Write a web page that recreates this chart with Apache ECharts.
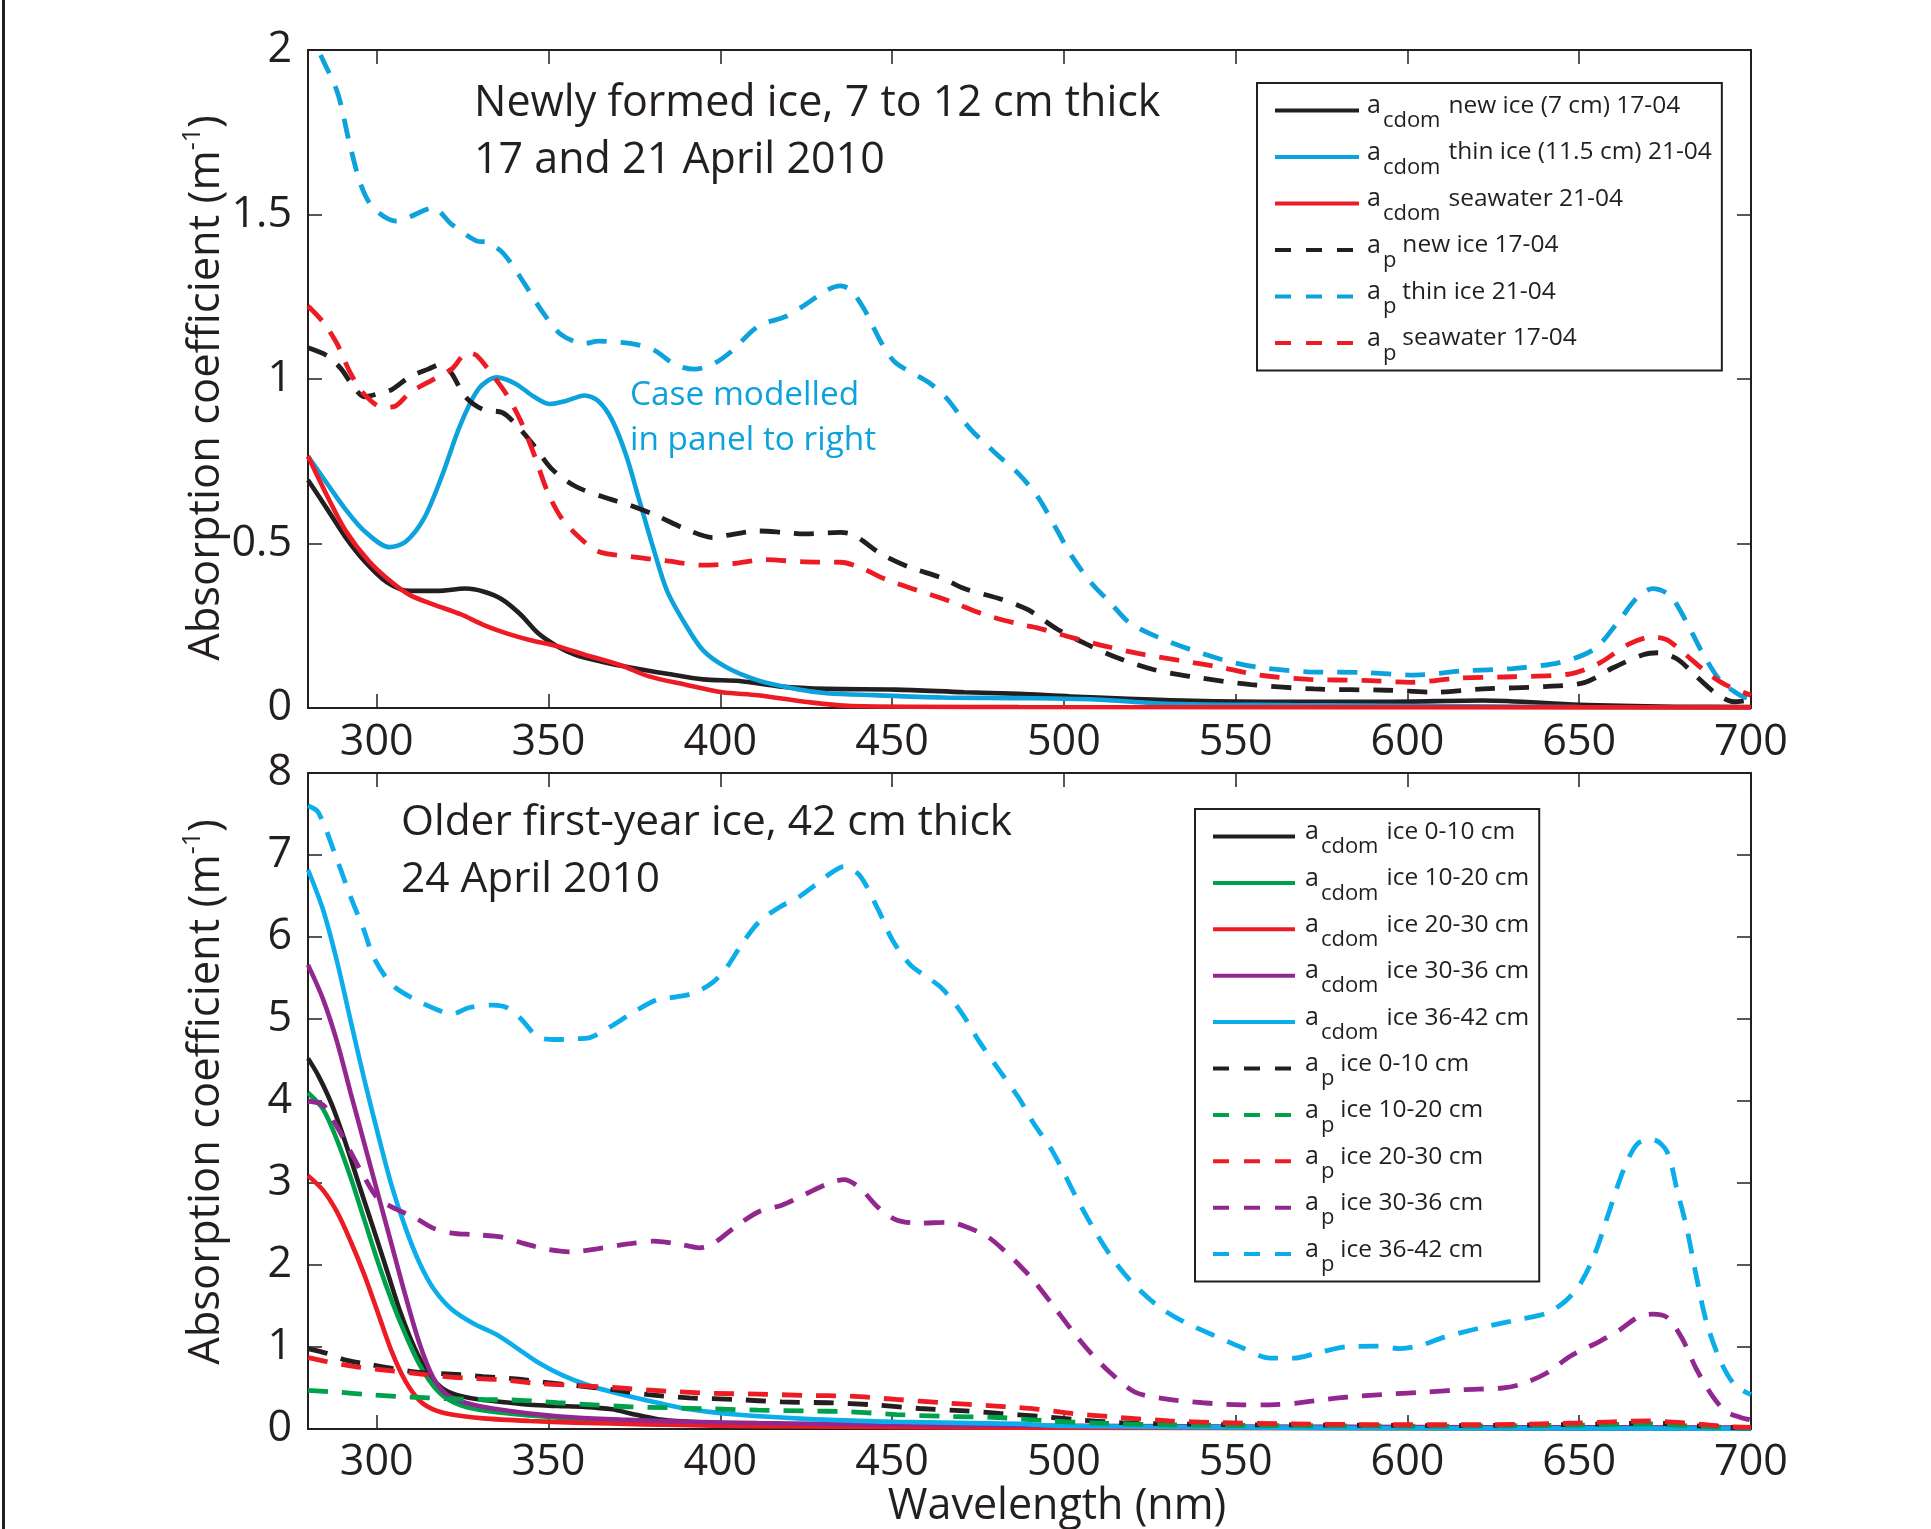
<!DOCTYPE html>
<html><head><meta charset="utf-8">
<script src="https://cdn.jsdelivr.net/npm/echarts@6/dist/echarts.min.js"></script>
<style>html,body{margin:0;padding:0;background:#fff}#c{width:1931px;height:1529px}</style>
</head><body><div id="c"></div>
<script>
// ---------- tick labels ----------
const xTicks = [300, 350, 400, 450, 500, 550, 600, 650, 700];

// ---------- Panel 1: newly formed ice ----------
const topSubs = ['cdom', 'cdom', 'cdom', 'p', 'p', 'p'];
const topTexts = ['new ice (7 cm) 17-04', 'thin ice (11.5 cm) 21-04', 'seawater 21-04', 'new ice 17-04', 'thin ice 21-04', 'seawater 17-04'];

const acdomNewIce = [[280,0.693],[285.7,0.603],[291,0.518],[296.4,0.447],[303,0.382],[309.7,0.356],[317.8,0.356],[325.8,0.363],[331,0.354],[336.5,0.33],[341.8,0.285],[347,0.227],[352.5,0.188],[357.8,0.162],[365.8,0.14],[373.8,0.123],[384.5,0.104],[395,0.087],[405.6,0.082],[417.8,0.065],[431,0.058],[451,0.056],[471,0.048],[487,0.043],[502,0.035],[537.6,0.022],[566,0.019],[594,0.019],[622,0.023],[650,0.01],[678,0.004],[700,0.003]];
const acdomThinIce = [[280,0.765],[285.7,0.68],[291,0.603],[296.4,0.538],[303.7,0.489],[308.4,0.505],[313.8,0.577],[319,0.706],[324.4,0.862],[329.8,0.972],[335,1.005],[340.5,0.985],[345.8,0.946],[350.5,0.924],[355,0.933],[360.5,0.95],[364.5,0.933],[368.5,0.875],[372.5,0.771],[376.5,0.629],[380.5,0.486],[384.5,0.356],[389.9,0.253],[395,0.175],[401.9,0.123],[411,0.084],[422,0.058],[431,0.045],[444.6,0.039],[464.6,0.032],[487,0.03],[509,0.026],[530,0.013],[566,0.009],[608,0.006],[650,0.003],[700,0.002]];
const acdomSeawater = [[280,0.765],[285.7,0.642],[291,0.538],[297.7,0.447],[304.4,0.382],[309.7,0.343],[316.4,0.315],[324.4,0.285],[331,0.253],[337.8,0.227],[344.5,0.207],[352.5,0.188],[360.5,0.162],[371,0.13],[379,0.097],[389.9,0.071],[400.6,0.048],[411,0.039],[424.6,0.019],[438,0.006],[487,0.003],[700,0.002]];
const apNewIce = [[280,1.095],[285.7,1.07],[289.7,1.03],[293,0.98],[296.4,0.946],[300.4,0.955],[304.4,0.968],[309.7,1.007],[315,1.03],[319,1.046],[321.8,1.017],[325.8,0.946],[331,0.907],[336.5,0.898],[340.5,0.862],[345.8,0.797],[351,0.726],[357.8,0.674],[365.8,0.642],[373.8,0.616],[381.8,0.583],[389.9,0.544],[397.9,0.518],[401.9,0.525],[411,0.538],[418,0.534],[424.6,0.529],[435,0.534],[439,0.525],[447,0.467],[455,0.428],[464.6,0.395],[471,0.363],[482,0.33],[489.7,0.298],[498,0.24],[506.6,0.194],[515,0.155],[526,0.117],[540,0.091],[554.5,0.071],[572.8,0.058],[594,0.054],[608,0.048],[622,0.058],[640,0.065],[651.7,0.078],[660,0.123],[668.6,0.162],[672.8,0.168],[678.5,0.149],[684,0.097],[689.7,0.045],[695,0.019],[700,0.025]];
const apThinIce = [[280,2.08],[283,2.0],[288.6,1.87],[292,1.72],[295.4,1.59],[299,1.52],[305.7,1.48],[309,1.49],[316.4,1.52],[321.8,1.47],[329,1.42],[332.4,1.415],[337,1.38],[343,1.29],[348.5,1.2],[353.8,1.134],[360.5,1.108],[364.5,1.115],[373.8,1.108],[380.5,1.089],[387,1.043],[392.5,1.03],[398,1.046],[403,1.082],[411,1.16],[419,1.19],[424.6,1.225],[431,1.27],[435,1.283],[438,1.27],[442,1.21],[447,1.108],[451,1.05],[460.6,0.99],[466,0.94],[472.6,0.85],[480.6,0.77],[487,0.71],[492.5,0.64],[497.5,0.55],[502.4,0.46],[508,0.38],[513.7,0.318],[519,0.26],[527.7,0.214],[537.6,0.175],[547.5,0.143],[557,0.123],[571,0.11],[587,0.108],[602,0.1],[616.5,0.113],[630.6,0.12],[644.6,0.139],[654.5,0.18],[661.6,0.266],[667,0.337],[671.4,0.363],[676.3,0.343],[681,0.266],[685.5,0.175],[691,0.084],[696.8,0.039],[700,0.026]];
const apSeawater = [[280,1.222],[284.4,1.173],[288.4,1.108],[292.4,1.017],[296.4,0.953],[301.7,0.914],[305,0.916],[309.7,0.959],[316.4,0.998],[321.8,1.03],[326.4,1.08],[329,1.072],[333.8,1.011],[337.8,0.953],[341.8,0.875],[345.8,0.771],[349.8,0.655],[353.8,0.577],[359,0.518],[364.5,0.476],[373.8,0.46],[384.5,0.447],[395,0.434],[404.5,0.44],[412.7,0.451],[424.6,0.444],[435,0.443],[440.5,0.428],[448.6,0.389],[457.9,0.356],[467,0.324],[476.6,0.285],[487,0.255],[492.5,0.243],[502.4,0.214],[512,0.188],[523.5,0.162],[534.8,0.143],[546,0.123],[557,0.1],[571.4,0.087],[587,0.084],[601,0.078],[615,0.091],[630.6,0.095],[647.5,0.104],[655.8,0.136],[664.4,0.194],[671.4,0.216],[675.6,0.207],[681,0.162],[686.9,0.11],[692.5,0.071],[700,0.039]];

// ---------- Panel 2: older first-year ice ----------
const botSubs = ['cdom', 'cdom', 'cdom', 'cdom', 'cdom', 'p', 'p', 'p', 'p', 'p'];
const botTexts = ['ice 0-10 cm', 'ice 10-20 cm', 'ice 20-30 cm', 'ice 30-36 cm', 'ice 36-42 cm', 'ice 0-10 cm', 'ice 10-20 cm', 'ice 20-30 cm', 'ice 30-36 cm', 'ice 36-42 cm'];

const acdom0_10 = [[280,4.52],[283,4.31],[287,3.95],[291,3.48],[295,2.96],[299,2.45],[303,1.93],[307,1.41],[311,0.99],[315,0.68],[319,0.5],[323,0.42],[328.4,0.37],[336.5,0.33],[344.5,0.295],[352.5,0.28],[360.5,0.27],[368.5,0.24],[373.8,0.19],[381.8,0.12],[389.9,0.09],[404.5,0.06],[424.6,0.05],[451,0.04],[487,0.03],[550,0.02],[600,0.015],[700,0.01]];
const acdom10_20 = [[280,4.1],[284.4,3.9],[288.4,3.53],[292.4,3.07],[296.4,2.55],[300.4,2.03],[304.4,1.56],[308.4,1.15],[312.4,0.79],[316.4,0.53],[320.4,0.37],[325.8,0.27],[333.8,0.21],[344.5,0.166],[357.8,0.124],[371,0.088],[391,0.062],[411,0.047],[487,0.02],[600,0.012],[700,0.008]];
const acdom20_30 = [[280,3.09],[284.4,2.91],[288.4,2.65],[292.4,2.29],[296.4,1.88],[300.4,1.41],[304.4,0.94],[308.4,0.58],[312.4,0.35],[316.4,0.24],[321.8,0.176],[331,0.13],[344.5,0.098],[357.8,0.078],[377.8,0.057],[397.9,0.041],[424.6,0.031],[487,0.016],[600,0.01],[700,0.006]];
const acdom30_36 = [[280,5.66],[284.4,5.24],[288.4,4.73],[292.4,4.1],[296.4,3.48],[300.4,2.86],[304.4,2.24],[308.4,1.62],[312.4,1.05],[316.4,0.63],[320.4,0.42],[325.8,0.32],[333.8,0.25],[344.5,0.19],[357.8,0.14],[371,0.114],[391,0.088],[411,0.073],[451,0.052],[487,0.041],[550,0.03],[620,0.022],[700,0.018]];
const acdom36_42 = [[280,6.82],[284.4,6.33],[288.4,5.71],[292.4,4.98],[296.4,4.26],[300.4,3.59],[304.4,2.96],[308.4,2.45],[312.4,2.03],[316.4,1.72],[321.8,1.46],[328.4,1.28],[335,1.15],[340.5,0.995],[347,0.81],[353.8,0.66],[361.8,0.53],[371,0.425],[381.8,0.32],[391,0.24],[404.5,0.176],[424.6,0.124],[451,0.088],[487,0.062],[500,0.036],[550,0.02],[600,0.01],[700,0.005]];
const ap0_10 = [[280,0.98],[285.7,0.92],[291,0.84],[297.7,0.79],[304.4,0.74],[312.4,0.69],[321.8,0.67],[331,0.64],[340.5,0.61],[349.8,0.565],[357.8,0.53],[368.5,0.48],[379,0.42],[391,0.38],[404.5,0.36],[417.9,0.33],[431.2,0.32],[444.6,0.295],[458,0.25],[471.3,0.22],[481.3,0.19],[492.5,0.155],[503.8,0.114],[516.5,0.078],[530.6,0.062],[551.7,0.052],[580,0.047],[608,0.041],[636,0.047],[657,0.062],[671.4,0.073],[681.3,0.047],[692.5,0.02],[700,0.015]];
const ap10_20 = [[280,0.47],[288.4,0.45],[299,0.415],[309.7,0.39],[320.4,0.37],[331,0.36],[341.8,0.35],[352.5,0.32],[363,0.295],[373.8,0.27],[384.5,0.26],[397.9,0.245],[411,0.23],[424.6,0.22],[437.9,0.21],[451.3,0.176],[464.6,0.155],[481,0.14],[495,0.1],[509,0.073],[530.6,0.052],[565.8,0.041],[608,0.036],[650,0.047],[670,0.062],[685.5,0.03],[700,0.015]];
const ap20_30 = [[280,0.87],[285.7,0.82],[293.7,0.76],[304.4,0.71],[315,0.66],[325.8,0.62],[336.5,0.6],[347,0.555],[357.8,0.53],[371,0.5],[384.5,0.46],[397.9,0.435],[411.2,0.425],[424.6,0.41],[437.9,0.4],[451.3,0.36],[464.6,0.32],[478,0.285],[487,0.26],[492.5,0.24],[502.4,0.19],[516.5,0.14],[530.6,0.1],[544.6,0.078],[565.8,0.062],[594,0.052],[622,0.052],[650,0.073],[670,0.098],[681.3,0.073],[692.5,0.03],[700,0.02]];
const ap30_36 = [[280,4.0],[284.4,3.95],[288.4,3.69],[292.4,3.38],[296.4,3.07],[300.4,2.81],[305.7,2.68],[311,2.58],[316.4,2.45],[321.8,2.39],[328.4,2.37],[336.5,2.34],[343,2.26],[349.8,2.19],[356.5,2.16],[364.5,2.2],[373.8,2.26],[380.5,2.29],[388.5,2.25],[393.9,2.21],[397.9,2.26],[404.5,2.47],[411.2,2.65],[417.9,2.73],[424.6,2.86],[431.2,2.99],[436,3.04],[440.6,2.94],[446,2.7],[451.3,2.55],[458,2.51],[466,2.52],[471.3,2.47],[478,2.34],[483.3,2.15],[487,2.0],[491,1.82],[496.8,1.51],[502.4,1.2],[508,0.92],[513.7,0.68],[520.7,0.45],[529,0.37],[540.4,0.32],[551.7,0.295],[560,0.295],[568.6,0.32],[580,0.38],[592.5,0.42],[605,0.45],[616.5,0.48],[627.7,0.5],[633.4,0.55],[640.4,0.68],[647.5,0.89],[656,1.07],[661.5,1.2],[667,1.36],[671.4,1.4],[675.6,1.36],[680,1.1],[684,0.74],[688.5,0.42],[692.5,0.22],[697,0.14],[700,0.11]];
const ap36_42 = [[280,7.6],[283,7.52],[288.4,6.95],[292.4,6.49],[296.4,6.07],[299,5.76],[304.4,5.42],[311,5.24],[317.8,5.11],[321.8,5.06],[327,5.14],[333.8,5.17],[337.8,5.14],[341.8,5.01],[347,4.78],[352.5,4.75],[357.8,4.76],[361.8,4.77],[367,4.88],[375,5.09],[381.8,5.24],[387.2,5.27],[392.5,5.32],[397.9,5.45],[401.9,5.63],[405.9,5.89],[411.2,6.18],[417.9,6.38],[421.9,6.46],[427.2,6.62],[431.2,6.75],[436,6.86],[440.6,6.75],[446,6.33],[450,5.97],[455.3,5.66],[460.6,5.5],[464.6,5.37],[470,5.09],[475.3,4.73],[480.6,4.41],[487,4.03],[491,3.74],[496.8,3.38],[503.8,2.81],[509.4,2.39],[515,2.03],[520.7,1.75],[527.7,1.49],[534.8,1.31],[543.2,1.15],[551.7,0.995],[560,0.865],[567,0.865],[574,0.93],[582.7,1.005],[591,1.01],[598,0.98],[603.8,1.02],[610.8,1.12],[622,1.24],[633,1.34],[640.4,1.41],[646,1.56],[650.3,1.77],[654.5,2.13],[658.7,2.65],[663,3.17],[667,3.48],[671.4,3.53],[675.6,3.38],[678.5,2.91],[681.3,2.45],[684,1.88],[687,1.31],[691,0.84],[695.4,0.53],[700,0.42]];

// ---------- styling ----------
const FONT = "'Open Sans', sans-serif";
const INK = '#231f20';
const C = { black: INK, blue: '#0ea2dc', blue2: '#0cadeb', red: '#ed1c24', green: '#00a14b', purple: '#92278f' };
const DASH = [20, 14];

function seriesOf(name, data, color, dashed, panel) {
  return {
    type: 'line', name: name, data: data,
    xAxisIndex: panel * 2, yAxisIndex: panel * 2,
    symbol: 'none', smooth: 0.3, clip: true,
    lineStyle: { color: color, width: dashed ? 4.8 : 4.6, type: dashed ? DASH : 'solid', cap: 'butt' },
    itemStyle: { color: color },
    emphasis: { disabled: true }
  };
}
const topNames = topSubs.map((s, i) => 'a' + s + ' ' + topTexts[i]);
const botNames = botSubs.map((s, i) => 'a' + s + ' ' + botTexts[i] + (i >= 5 ? ' ' : ''));
const labelMap = {};
topNames.forEach((n, i) => labelMap[n] = [topSubs[i], topTexts[i]]);
botNames.forEach((n, i) => labelMap[n] = [botSubs[i], botTexts[i]]);

const topData = [acdomNewIce, acdomThinIce, acdomSeawater, apNewIce, apThinIce, apSeawater];
const topColors = [C.black, C.blue, C.red, C.black, C.blue, C.red];
const botData = [acdom0_10, acdom10_20, acdom20_30, acdom30_36, acdom36_42, ap0_10, ap10_20, ap20_30, ap30_36, ap36_42];
const botColors = [C.black, C.green, C.red, C.purple, C.blue2, C.black, C.green, C.red, C.purple, C.blue2];

const series = [];
topNames.forEach((n, i) => series.push(seriesOf(n, topData[i], topColors[i], i >= 3, 0)));
botNames.forEach((n, i) => series.push(seriesOf(n, botData[i], botColors[i], i >= 5, 1)));

function legendItems(names, subs) {
  return names.map((n, i) => ({
    name: n,
    itemStyle: { opacity: 0 },
    lineStyle: { width: 4, type: subs[i] === 'p' ? [16, 15] : 'solid' }
  }));
}
function legendFormatter(name) {
  const p = labelMap[name];
  return '{a|a}{s|' + p[0] + '}{' + (p[0] === 'cdom' ? 't1' : 't2') + '|' + p[1] + '}';
}
function legendRich(aPad) {
  return {
    a: { fontSize: 25, lineHeight: 30, padding: [0, 0, 9, aPad], fontFamily: FONT, color: INK },
    s: { fontSize: 22, lineHeight: 30, padding: [21, 0, 0, 2], fontFamily: FONT, color: INK },
    t1: { fontSize: 24.5, lineHeight: 30, padding: [0, 0, 9, 8], fontFamily: FONT, color: INK },
    t2: { fontSize: 24.5, lineHeight: 30, padding: [0, 0, 9, 6], fontFamily: FONT, color: INK }
  };
}

function xAxisPair(gridIndex, withName, margin) {
  const base = {
    type: 'value', gridIndex: gridIndex, min: 280, max: 700,
    axisLine: { show: true, onZero: false, lineStyle: { color: INK, width: 2 } },
    axisTick: { show: true, inside: true, length: 14, customValues: xTicks, lineStyle: { color: INK, width: 1.5 } },
    splitLine: { show: false }
  };
  const bottom = Object.assign({}, base, {
    position: 'bottom',
    axisLabel: { show: true, customValues: xTicks, fontSize: 43, fontFamily: FONT, color: INK, margin: margin }
  });
  if (withName) {
    Object.assign(bottom, {
      name: 'Wavelength (nm)', nameLocation: 'middle', nameGap: 56, nameMoveOverlap: false,
      nameTextStyle: { fontSize: 43, fontFamily: FONT, color: INK, padding: [0, 0, 0, 55] }
    });
  }
  const top = Object.assign({}, base, { position: 'top', axisLabel: { show: false } });
  return [bottom, top];
}
function yAxisPair(gridIndex, max, interval, namePad) {
  const base = {
    type: 'value', gridIndex: gridIndex, min: 0, max: max, interval: interval,
    axisLine: { show: true, onZero: false, lineStyle: { color: INK, width: 2 } },
    axisTick: { show: true, inside: true, length: 14, lineStyle: { color: INK, width: 1.5 } },
    splitLine: { show: false }
  };
  const left = Object.assign({}, base, {
    position: 'left',
    axisLabel: { show: true, fontSize: 43, fontFamily: FONT, color: INK, margin: 16 },
    name: 'Absorption coefficient (m{sup|-1})', nameLocation: 'middle', nameGap: 78, nameRotate: 90,
    nameMoveOverlap: false,
    nameTextStyle: { fontSize: 43.5, fontFamily: FONT, color: INK, lineHeight: 46, padding: namePad,
      rich: { sup: { fontSize: 25, fontFamily: FONT, color: INK, lineHeight: 46, padding: [0, 0, 28, 0] } } }
  });
  const right = Object.assign({}, base, { position: 'right', axisLabel: { show: false } });
  return [left, right];
}

const option = {
  animation: false,
  backgroundColor: '#fff',
  textStyle: { fontFamily: FONT },
  grid: [
    { left: 308, right: 180, top: 50, height: 658 },
    { left: 308, right: 180, top: 773, height: 658 }
  ],
  xAxis: [...xAxisPair(0, false, 13), ...xAxisPair(1, true, 12)],
  yAxis: [...yAxisPair(0, 2, 0.5, [0, 18, 0, 0]), ...yAxisPair(1, 8, 1, [0, 0, 0, 18])],
  legend: [
    { data: legendItems(topNames, topSubs), orient: 'vertical', left: 1257, top: 83, itemWidth: 84, itemHeight: 14, itemGap: 3.5,
      padding: [6, 10, 6, 16], borderColor: INK, borderWidth: 2, backgroundColor: '#fff', selectedMode: false,
      formatter: legendFormatter, textStyle: { rich: legendRich(3) } },
    { data: legendItems(botNames, botSubs), orient: 'vertical', left: 1195, top: 809, itemWidth: 82, itemHeight: 14, itemGap: 3.4,
      padding: [6, 10, 6, 16], borderColor: INK, borderWidth: 2, backgroundColor: '#fff', selectedMode: false,
      formatter: legendFormatter, textStyle: { rich: legendRich(5) } }
  ],
  graphic: [
    { type: 'rect', shape: { x: 2, y: 0, width: 3, height: 1529 }, style: { fill: INK } },
    { type: 'text', x: 474, y: 104, style: { text: 'Newly formed ice, 7 to 12 cm thick', fontSize: 43, fontFamily: FONT, fill: INK, verticalAlign: 'middle' } },
    { type: 'text', x: 474, y: 161, style: { text: '17 and 21 April 2010', fontSize: 43, fontFamily: FONT, fill: INK, verticalAlign: 'middle' } },
    { type: 'text', x: 630, y: 395, style: { text: 'Case modelled', fontSize: 33.4, fontFamily: FONT, fill: C.blue, verticalAlign: 'middle' } },
    { type: 'text', x: 630, y: 440, style: { text: 'in panel to right', fontSize: 33.4, fontFamily: FONT, fill: C.blue, verticalAlign: 'middle' } },
    { type: 'text', x: 401, y: 823, style: { text: 'Older first-year ice, 42 cm thick', fontSize: 42.4, fontFamily: FONT, fill: INK, verticalAlign: 'middle' } },
    { type: 'text', x: 401, y: 880, style: { text: '24 April 2010', fontSize: 42.4, fontFamily: FONT, fill: INK, verticalAlign: 'middle' } }
  ],
  series: series
};
const chart = echarts.init(document.getElementById('c'), null, { renderer: 'canvas' });
chart.setOption(option);
</script>
</body></html>
